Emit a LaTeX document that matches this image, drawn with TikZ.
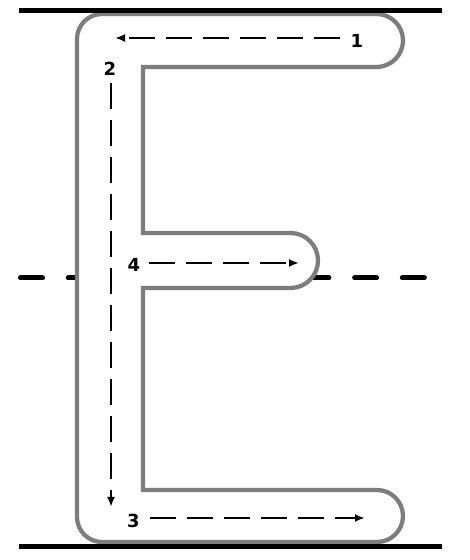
\documentclass[tikz,border=0pt]{standalone}
\usepackage{fontspec}
\setmainfont{DejaVu Sans}
\usetikzlibrary{arrows.meta}
\definecolor{outlinegray}{RGB}{125,125,125}
\begin{document}
\begin{tikzpicture}[x=0.75pt,y=0.75pt,
  guide/.style={line width=3.75pt,black},
  midguide/.style={line width=3.75pt,black,line cap=round,dash pattern=on 16.5pt off 19.3pt},
  letter/.style={draw=outlinegray,line width=3.2pt,fill=white,line join=miter},
  strokearrow/.style={line width=1.5pt,black,dash pattern=on 19.5pt off 8.25pt,-{Latex[length=7.5pt,width=6pt]}},
  num/.style={font=\bfseries\fontsize{13.5pt}{15pt}\selectfont,inner sep=0pt}]
\useasboundingbox (0,0) rectangle (470,560);
\fill[white] (0,0) rectangle (470,560);
% midline
\coordinate (ml) at (20.5,282);
\coordinate (mr) at (426,282);
\draw[midguide] (ml) -- (mr);
% letter E outline
\draw[letter] (77,521) arc[start angle=180,end angle=90,radius=25]
  -- (376.5,546) arc[start angle=90,end angle=-90,radius=26.5]
  -- (143,493) -- (143,327) -- (290.5,327)
  arc[start angle=90,end angle=-90,radius=27.5]
  -- (143,272) -- (143,70) -- (377,70)
  arc[start angle=90,end angle=-90,radius=26]
  -- (102,18) arc[start angle=270,end angle=180,radius=25] -- cycle;
% top and bottom lines
\coordinate (tl) at (19,549);
\coordinate (tr) at (442,549);
\coordinate (bl) at (19,13);
\coordinate (br) at (442,13);
\draw[guide] (tl) -- (tr);
\draw[guide] (bl) -- (br);
% stroke order labels
\node[num] (n1) at (357,519) {1};
\node[num] (n2) at (110,491) {2};
\node[num] (n3) at (133.5,39) {3};
\node[num] (n4) at (134,295) {4};
% stroke arrows
\coordinate (s1) at (340,522);
\coordinate (e1) at (115,522);
\coordinate (s2) at (111,477);
\coordinate (e2) at (111,53);
\coordinate (s3) at (150,42);
\coordinate (e3) at (365,42);
\coordinate (s4) at (149,297);
\coordinate (e4) at (299,297);
\draw[strokearrow] (s1) -- (e1);
\draw[strokearrow] (s2) -- (e2);
\draw[strokearrow] (s3) -- (e3);
\draw[strokearrow] (s4) -- (e4);
\end{tikzpicture}
\end{document}
